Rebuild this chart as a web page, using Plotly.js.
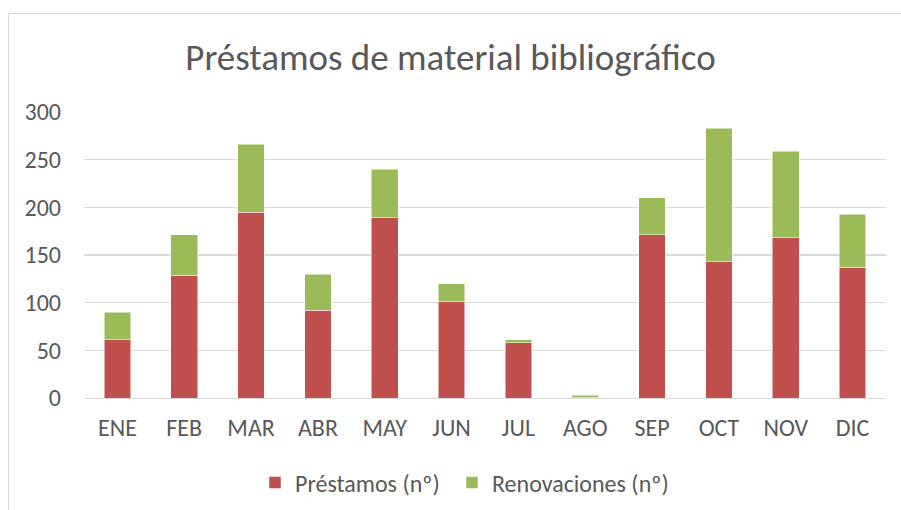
<!DOCTYPE html>
<html>
<head>
<meta charset="utf-8">
<script src="https://cdn.plot.ly/plotly-3.0.1.min.js"></script>
<style>
html,body{margin:0;padding:0;background:#fff;overflow:hidden;}
#frame{position:absolute;left:8px;top:13px;width:1000px;height:600px;border:1px solid #D9D9D9;box-sizing:border-box;pointer-events:none;z-index:5;}
#chart{position:absolute;left:0;top:0;width:901px;height:510px;}
</style>
</head>
<body>
<div id="chart"></div>
<div id="frame"></div>
<script>
const months = ["ENE","FEB","MAR","ABR","MAY","JUN","JUL","AGO","SEP","OCT","NOV","DIC"];
const prestamos = [61,129,195,92,189,101,58,1,171,143,168,137];
const renovaciones = [29,42,71,38,51,19,3,2,39,140,91,56];
const yTicks = [0,50,100,150,200,250,300];

const font = "Carlito, Calibri, 'Open Sans', sans-serif";
const traces = [
  {type:"bar", name:"Préstamos (nº)", x:months, y:prestamos, legend:"legend", marker:{color:"#C0504D", line:{color:"#fff", width:0.5}}},
  {type:"bar", name:"Renovaciones (nº)", x:months, y:renovaciones, legend:"legend2", marker:{color:"#9BBB59", line:{color:"#fff", width:0.5}}}
];
const legendBase = {orientation:"h", xref:"container", xanchor:"left", yref:"container", y:0.053, yanchor:"middle",
                    font:{family:font, size:24, color:"#595959"}, itemwidth:20, bgcolor:"rgba(0,0,0,0)"};
const layout = {
  width:901, height:510,
  barmode:"stack", bargap:0.6,
  margin:{l:84, r:15, t:112, b:112, autoexpand:false},
  paper_bgcolor:"#fff", plot_bgcolor:"#fff",
  title:{text:"Préstamos de material bibliográfico", x:0.5, xanchor:"center", y:0.888, yanchor:"middle",
         font:{family:font, size:37, color:"#595959"}},
  xaxis:{tickfont:{family:font, size:24, color:"#595959"}, showline:true, linecolor:"#D9D9D9", linewidth:1, ticks:"", showgrid:false,
         ticklabelstandoff:8, automargin:false},
  yaxis:{range:[0,300], tickvals:yTicks, tickfont:{family:font, size:24, color:"#595959"}, gridcolor:"#D9D9D9", gridwidth:1.3,
         zeroline:false, showline:false, ticks:"", ticklabelstandoff:22, automargin:false},
  legend:Object.assign({}, legendBase, {x:255/901}),
  legend2:Object.assign({}, legendBase, {x:452/901}),
  showlegend:true
};
Plotly.newPlot("chart", traces, layout, {displayModeBar:false, staticPlot:true});
</script>
</body>
</html>
